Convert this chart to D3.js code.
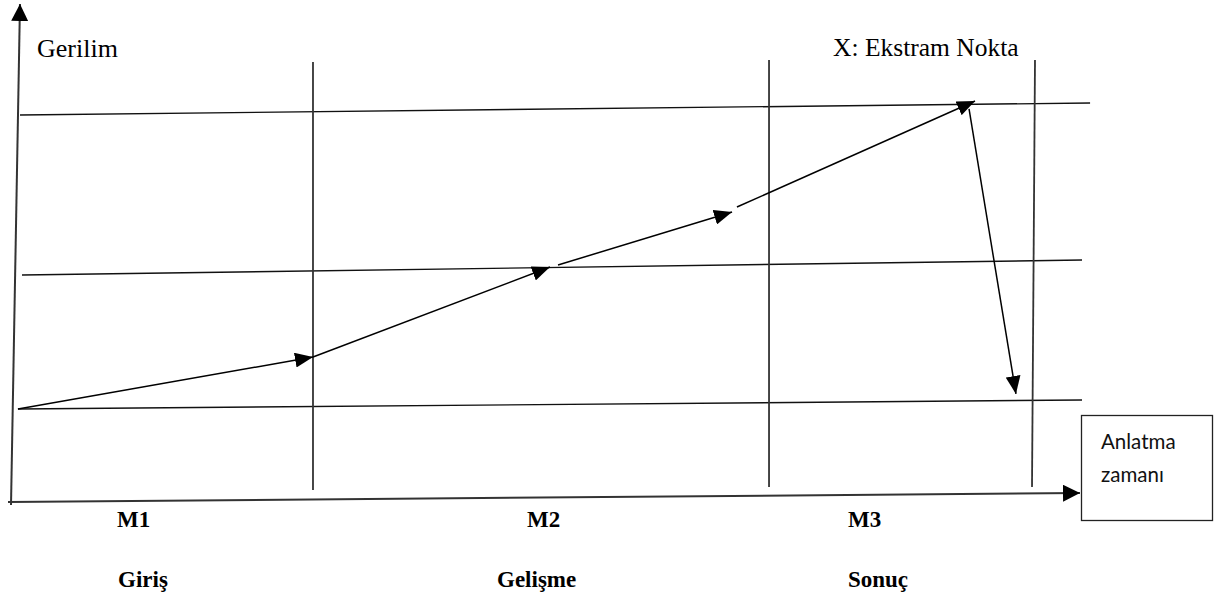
<!DOCTYPE html>
<html>
<head>
<meta charset="utf-8">
<script src="https://cdn.jsdelivr.net/npm/d3@7"></script>
<style>
  html, body { margin: 0; padding: 0; background: #fff; }
  svg { display: block; }
</style>
</head>
<body>
<svg id="chart" width="1216" height="601"></svg>
<script>
// ---- data (time units 0..100 on x, tension units 0..100 on y) ----
const phaseCodes = ["M1", "M2", "M3"];
const phaseNames = ["Giriş", "Gelişme", "Sonuç"];
const yAxisLine = [[0, -0.6], [0.84, 100]];
const xAxisLine = [[-0.28, 0], [100, 1.81]];
const levelLines = [
  [[0.84, 77.71], [100.94, 80.12]],
  [[1.03, 45.58], [100.19, 48.59]],
  [[0.65, 18.67], [100.19, 20.48]]
];
const phaseDividers = [
  [[28.25, 88.35], [28.25, 2.41]],
  [[70.91, 88.76], [70.91, 3.01]],
  [[95.79, 88.76], [95.51, 3.01]]
];
const tensionArrows = [
  [[0.65, 18.67], [28.25, 29.12]],
  [[28.25, 29.12], [50.42, 47.19]],
  [[51.17, 47.59], [67.45, 58.23]],
  [[67.91, 59.24], [90.18, 80.52]],
  [[89.62, 78.92], [94.01, 21.69]]
];
const yAxisTitle = "Gerilim";
const extremeNote = "X: Ekstram Nokta";
const xAxisTitle = ["Anlatma", "zamanı"];

// ---- layout ----
const svg = d3.select("#chart");
const x = d3.scaleLinear().domain([0, 100]).range([11, 1080]);
const y = d3.scaleLinear().domain([0, 100]).range([502, 4]);
const line = d3.line().x(d => x(d[0])).y(d => y(d[1]));

const defs = svg.append("defs");
function marker(id, len, half) {
  defs.append("marker")
    .attr("id", id)
    .attr("markerUnits", "userSpaceOnUse")
    .attr("viewBox", `0 ${-half} ${len} ${half * 2}`)
    .attr("refX", len).attr("refY", 0)
    .attr("markerWidth", len).attr("markerHeight", half * 2)
    .attr("orient", "auto")
    .append("path")
    .attr("d", `M0,${-half}L${len},0L0,${half}Z`)
    .attr("fill", "#000");
}
marker("head", 18, 7.5);
marker("axisHead", 17, 8.5);

// level lines
svg.append("g").selectAll("path").data(levelLines).join("path")
  .attr("d", line).attr("fill", "none").attr("stroke", "#111").attr("stroke-width", 1.4);

// phase dividers
svg.append("g").selectAll("path").data(phaseDividers).join("path")
  .attr("d", line).attr("fill", "none").attr("stroke", "#333").attr("stroke-width", 1.8);

// axes
svg.append("path").datum(yAxisLine).attr("d", line)
  .attr("fill", "none").attr("stroke", "#333").attr("stroke-width", 2)
  .attr("marker-end", "url(#axisHead)");
svg.append("path").datum(xAxisLine).attr("d", line)
  .attr("fill", "none").attr("stroke", "#333").attr("stroke-width", 2)
  .attr("marker-end", "url(#axisHead)");

// tension arrows
svg.append("g").selectAll("path").data(tensionArrows).join("path")
  .attr("d", line).attr("fill", "none").attr("stroke", "#000").attr("stroke-width", 1.5)
  .attr("marker-end", "url(#head)");

// texts
const serif = "'Liberation Serif', 'Times New Roman', serif";
svg.append("text").attr("x", 37).attr("y", 57)
  .attr("font-family", serif).attr("font-size", 26).attr("fill", "#000")
  .text(yAxisTitle);
svg.append("text").attr("x", 833).attr("y", 56)
  .attr("font-family", serif).attr("font-size", 25.5).attr("fill", "#000")
  .text(extremeNote);

const codeX = [117, 527, 848];
const nameX = [118, 497, 848];
svg.append("g").selectAll("text").data(phaseCodes).join("text")
  .attr("x", (d, i) => codeX[i]).attr("y", 527)
  .attr("font-family", serif).attr("font-weight", "bold").attr("font-size", 23).attr("fill", "#000")
  .text(d => d);
svg.append("g").selectAll("text").data(phaseNames).join("text")
  .attr("x", (d, i) => nameX[i]).attr("y", 587)
  .attr("font-family", serif).attr("font-weight", "bold").attr("font-size", 23).attr("fill", "#000")
  .text(d => d);

// x axis title box
const box = svg.append("g");
box.append("rect").attr("x", 1081.5).attr("y", 415.5).attr("width", 131).attr("height", 105)
  .attr("fill", "#fff").attr("stroke", "#222").attr("stroke-width", 1.3);
box.selectAll("text").data(xAxisTitle).join("text")
  .attr("x", 1101).attr("y", (d, i) => 449 + i * 33)
  .attr("font-family", "Lato, 'Open Sans', sans-serif").attr("font-size", 20.5).attr("fill", "#111")
  .text(d => d);
</script>
</body>
</html>
